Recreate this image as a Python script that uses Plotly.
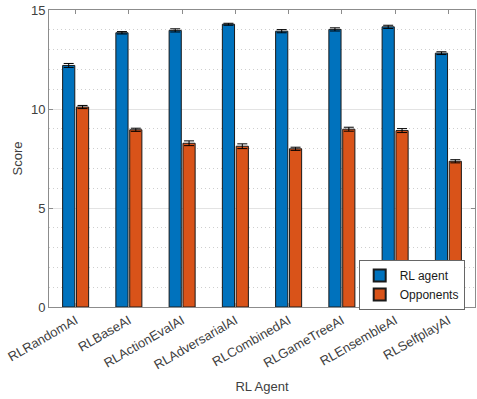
import plotly.graph_objects as go

categories = ["RLRandomAI", "RLBaseAI", "RLActionEvalAI", "RLAdversarialAI",
              "RLCombinedAI", "RLGameTreeAI", "RLEnsembleAI", "RLSelfplayAI"]
rl_agent = [12.2, 13.85, 13.97, 14.28, 13.93, 14.02, 14.15, 12.82]
rl_agent_err = [0.1, 0.06, 0.08, 0.05, 0.08, 0.08, 0.08, 0.07]
opponents = [10.1, 8.95, 8.27, 8.12, 7.99, 8.98, 8.91, 7.36]
opponents_err = [0.08, 0.08, 0.12, 0.12, 0.08, 0.1, 0.1, 0.08]

font_fam = "Liberation Sans, Arial, sans-serif"
axis_col = "#8c8c8c"
text_col = "#404040"

fig = go.Figure()
fig.add_trace(go.Bar(
    x=categories, y=rl_agent, name="RL agent",
    marker=dict(color="#0072BD", line=dict(color="#1a1a1a", width=1)),
    error_y=dict(type="data", array=rl_agent_err, color="black", thickness=1, width=5),
))
fig.add_trace(go.Bar(
    x=categories, y=opponents, name="Opponents",
    marker=dict(color="#D95319", line=dict(color="#1a1a1a", width=1)),
    error_y=dict(type="data", array=opponents_err, color="black", thickness=1, width=5),
))

fig.update_layout(
    width=477, height=399,
    margin=dict(l=49, r=2, t=10, b=92),
    paper_bgcolor="white", plot_bgcolor="white",
    barmode="group", bargap=0.48, bargroupgap=0.12,
    font=dict(family=font_fam, size=12, color=text_col),
    showlegend=True,
    legend=dict(
        x=0.727, y=0.158, xanchor="left", yanchor="top",
        bgcolor="white", bordercolor="#666666", borderwidth=1,
        font=dict(size=12, color="#1a1a1a"),
        tracegroupgap=0, itemsizing="constant",
    ),
)

fig.update_xaxes(
    showline=True, linecolor=axis_col, linewidth=1, mirror="ticks",
    ticks="inside", ticklen=4, tickcolor=axis_col,
    tickangle=-30, tickfont=dict(size=13, color=text_col),
    title=dict(text="RL Agent", font=dict(size=13, color=text_col), standoff=10),
    showgrid=False, range=[-0.5, 7.5],
)
fig.update_yaxes(
    range=[0, 15], tickvals=[0, 5, 10, 15],
    showline=True, linecolor=axis_col, linewidth=1, mirror="ticks",
    ticks="inside", ticklen=4, tickcolor=axis_col,
    tickfont=dict(size=13, color=text_col),
    showgrid=True, gridcolor="#e3e3e3", gridwidth=1,
    minor=dict(dtick=1, showgrid=True, gridcolor="#cfcfcf", griddash="1px,3px", ticks=""),
    zeroline=False,
    title=dict(text="Score", font=dict(size=13, color=text_col), standoff=5),
)

fig.write_html("out.html", config={"displayModeBar": False},
               post_script="document.body.style.margin='0';")
